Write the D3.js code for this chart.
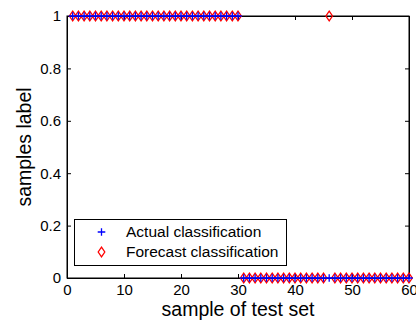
<!DOCTYPE html>
<html>
<head>
<meta charset="utf-8">
<script src="https://cdn.jsdelivr.net/npm/d3@7"></script>
<style>
  html, body { margin: 0; padding: 0; background: #fff; }
  svg { display: block; font-family: "Liberation Sans", Arial, sans-serif; }
</style>
</head>
<body>
<svg id="chart" width="416" height="323"></svg>
<script>
// Sample indices of the test set
const samples = d3.range(1, 61);
// True class labels (1 for the first 30 samples, 0 for the rest)
const actualLabels = [
  1,1,1,1,1,1,1,1,1,1, 1,1,1,1,1,1,1,1,1,1, 1,1,1,1,1,1,1,1,1,1,
  0,0,0,0,0,0,0,0,0,0, 0,0,0,0,0,0,0,0,0,0, 0,0,0,0,0,0,0,0,0,0
];
// Predicted class labels (sample 46 is misclassified)
const forecastLabels = [
  1,1,1,1,1,1,1,1,1,1, 1,1,1,1,1,1,1,1,1,1, 1,1,1,1,1,1,1,1,1,1,
  0,0,0,0,0,0,0,0,0,0, 0,0,0,0,0,1,0,0,0,0, 0,0,0,0,0,0,0,0,0,0
];
const xTicks = [0, 10, 20, 30, 40, 50, 60];
const yTicks = [0, 0.2, 0.4, 0.6, 0.8, 1];
const seriesNames = ["Actual classification", "Forecast classification"];

const svg = d3.select("#chart");
const margin = { left: 67, right: 7, top: 16, bottom: 45 };
const W = 416, H = 323;
const x = d3.scaleLinear().domain([0, 60]).range([margin.left, W - margin.right]);
const y = d3.scaleLinear().domain([0, 1]).range([H - margin.bottom, margin.top]);

const tickFont = 15;
const tickLen = 4;

// Bottom axis (ticks inward)
const gx = svg.append("g").attr("transform", `translate(0,${y(0)})`)
  .call(d3.axisBottom(x).tickValues(xTicks).tickSizeInner(-tickLen).tickSizeOuter(0).tickPadding(6).tickFormat(d3.format("d")));
// Top axis ticks
const gxTop = svg.append("g").attr("transform", `translate(0,${y(1)})`)
  .call(d3.axisTop(x).tickValues(xTicks).tickSizeInner(-tickLen).tickSizeOuter(0).tickFormat(""));
// Left axis
const gy = svg.append("g").attr("transform", `translate(${x(0)},0)`)
  .call(d3.axisLeft(y).tickValues(yTicks).tickSizeInner(-tickLen).tickSizeOuter(0).tickPadding(6).tickFormat(d => d3.format("~g")(d)));
// Right axis ticks
const gyRight = svg.append("g").attr("transform", `translate(${x(60)},0)`)
  .call(d3.axisRight(y).tickValues(yTicks).tickSizeInner(-tickLen).tickSizeOuter(0).tickFormat(""));

[gx, gxTop, gy, gyRight].forEach(g => {
  g.select(".domain").attr("stroke", "#000").attr("stroke-width", 1);
  g.selectAll(".tick line").attr("stroke", "#000");
  g.selectAll("text").attr("font-size", tickFont).attr("fill", "#000")
    .attr("font-family", "Liberation Sans, Arial, sans-serif");
});
gx.selectAll("text").attr("dy", "0.71em");

// Axis box
svg.append("rect")
  .attr("x", x(0)).attr("y", y(1))
  .attr("width", x(60) - x(0)).attr("height", y(0) - y(1))
  .attr("fill", "none").attr("stroke", "#000").attr("stroke-width", 1);

// Axis labels
svg.append("text")
  .attr("x", (x(0) + x(60)) / 2).attr("y", 316)
  .attr("text-anchor", "middle").attr("font-size", 19.5).text("sample of test set");
svg.append("text")
  .attr("transform", `translate(31,${(y(0) + y(1)) / 2}) rotate(-90)`)
  .attr("text-anchor", "middle").attr("font-size", 19.5).text("samples label");

// Marker shapes
const diamond = (cx, cy) => `M${cx},${cy - 4.8}L${cx + 3.3},${cy}L${cx},${cy + 4.8}L${cx - 3.3},${cy}Z`;
const plus = (cx, cy) => `M${cx - 3.8},${cy}H${cx + 3.8}M${cx},${cy - 3.8}V${cy + 3.8}`;
const markW = 1.3;

const plot = svg.append("g");
// Forecast (red diamonds)
plot.selectAll("path.fc").data(samples).join("path")
  .attr("class", "fc")
  .attr("d", (s, i) => diamond(x(s), y(forecastLabels[i])))
  .attr("fill", "none").attr("stroke", "#ff0000").attr("stroke-width", markW);
// Actual (blue plus)
plot.selectAll("path.ac").data(samples).join("path")
  .attr("class", "ac")
  .attr("d", (s, i) => plus(x(s), y(actualLabels[i])))
  .attr("fill", "none").attr("stroke", "#0000ff").attr("stroke-width", markW);

// Legend
const lg = svg.append("g");
lg.append("rect").attr("x", 74.5).attr("y", 219.5).attr("width", 212).attr("height", 46)
  .attr("fill", "#fff").attr("stroke", "#000").attr("stroke-width", 1);
lg.append("path").attr("d", plus(101.5, 232)).attr("stroke", "#0000ff").attr("stroke-width", markW).attr("fill", "none");
lg.append("path").attr("d", diamond(101.5, 252)).attr("stroke", "#ff0000").attr("stroke-width", markW).attr("fill", "none");
lg.selectAll("text.lbl").data(seriesNames).join("text")
  .attr("class", "lbl")
  .attr("x", 126).attr("y", (d, i) => 232 + i * 20)
  .attr("dy", "0.35em").attr("font-size", 15.5).text(d => d);
</script>
</body>
</html>
